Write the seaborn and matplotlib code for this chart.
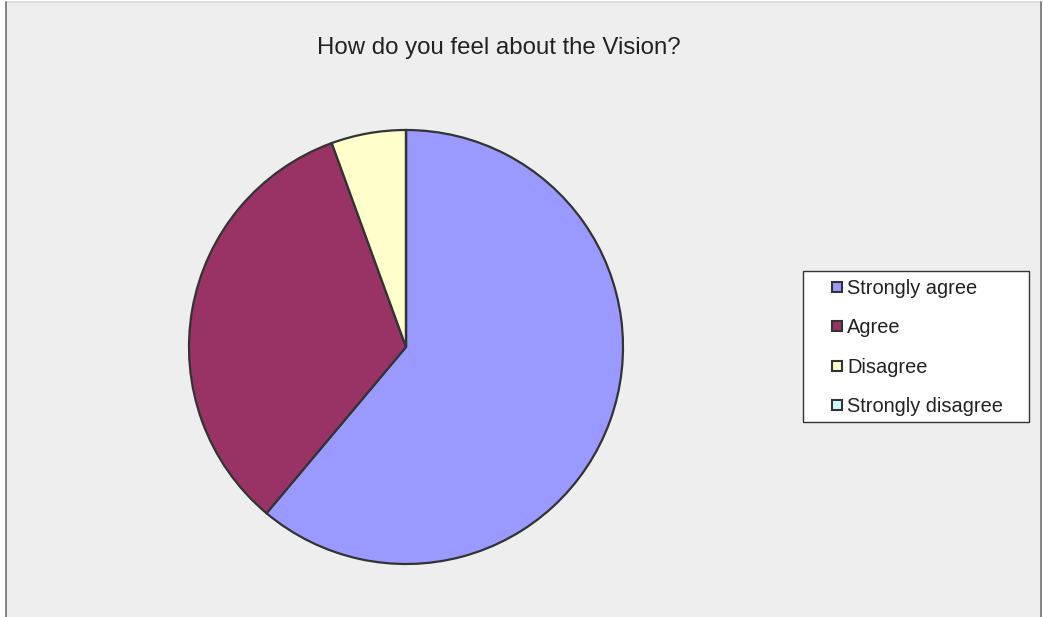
import matplotlib
matplotlib.use("Agg")
import matplotlib.pyplot as plt
from matplotlib.lines import Line2D
from matplotlib.patches import Rectangle
import seaborn as sns

# Survey responses
categories = ["Strongly agree", "Agree", "Disagree", "Strongly disagree"]
counts = [11, 6, 1, 0]
slice_colors = ["#9999FF", "#993366", "#FFFFCC", "#CCFFFF"]
title_text = "How do you feel about the Vision?"

sns.set_theme(style="white")
plt.rcParams["font.family"] = ["Liberation Sans", "DejaVu Sans"]

bg = "#EEEEEE"
edge = "#333333"
palette = sns.color_palette(slice_colors)
W, H = 1043, 617

fig = plt.figure(figsize=(W / 100, H / 100), dpi=100, facecolor="white")

# Grey chart panel with its frame lines
fig.add_artist(Rectangle((5.5 / W, 0), 1035 / W, 1 - 1.5 / H,
                         transform=fig.transFigure, facecolor=bg,
                         edgecolor="none", zorder=0))
fig.add_artist(Line2D([5.5 / W, 1040.5 / W], [1 - 1.5 / H, 1 - 1.5 / H],
                      transform=fig.transFigure, color="#D8D8D8", linewidth=1.2))
for xp in (5.5, 1040.5):
    fig.add_artist(Line2D([xp / W, xp / W], [0, 1 - 1.5 / H],
                          transform=fig.transFigure, color="#707070",
                          linewidth=1.2))

ax = fig.add_axes([189 / W, 53 / H, 434 / W, 434 / H])
ax.patch.set_alpha(0)
wedges, _ = ax.pie(counts, colors=palette, startangle=90, counterclock=False,
                   radius=1.0,
                   wedgeprops=dict(edgecolor=edge, linewidth=1.6))
ax.set_xlim(-1.0, 1.0)
ax.set_ylim(-1.0, 1.0)
ax.set_aspect("auto")
ax.axis("off")

fig.text(498.5 / W, 1 - 48 / H, title_text, ha="center", va="center",
         fontsize=17.3, color="#222222")

# Legend box
fig.add_artist(Rectangle((803 / W, 1 - 422 / H), 226 / W, 151 / H,
                         transform=fig.transFigure, facecolor="white",
                         edgecolor=edge, linewidth=1.0, zorder=2))

handles = [Line2D([0], [0], marker="s", linestyle="none", markersize=7,
                  markerfacecolor=c, markeredgecolor=edge, markeredgewidth=1.5)
           for c in palette]
leg = fig.legend(handles, categories, loc="center",
                 bbox_to_anchor=(917 / W, 1 - 347.5 / H),
                 frameon=False, fontsize=14.4,
                 handlelength=0.6, handletextpad=0.2, labelspacing=1.02,
                 borderpad=0.0, borderaxespad=0)
leg.set_zorder(3)
for t in leg.get_texts():
    t.set_color("#222222")

fig.savefig("out.png", dpi=100, facecolor="white")
